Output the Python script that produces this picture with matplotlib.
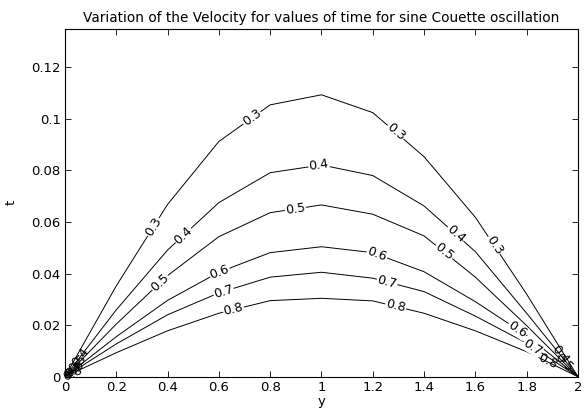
import numpy as np
import matplotlib
matplotlib.use("Agg")
import matplotlib.pyplot as plt

plt.rcParams['font.family'] = ['DejaVu Sans']

# grid positions along y
y_pts = [0.0, 0.2, 0.4, 0.6, 0.8, 1.0, 1.2, 1.4, 1.6, 1.8, 2.0]
levels = [0.3, 0.4, 0.5, 0.6, 0.7, 0.8]
t_03 = [0, 0.0352, 0.0668, 0.0912, 0.1054, 0.1093, 0.1024, 0.0853, 0.0618, 0.0320, 0]
t_04 = [0, 0.0259, 0.0491, 0.0675, 0.0791, 0.0821, 0.0780, 0.0662, 0.0485, 0.0246, 0]
t_05 = [0, 0.0204, 0.0392, 0.0543, 0.0636, 0.0666, 0.0630, 0.0546, 0.0386, 0.0198, 0]
t_06 = [0, 0.0155, 0.0296, 0.0405, 0.0481, 0.0504, 0.0481, 0.0407, 0.0291, 0.0160, 0]
t_07 = [0, 0.0127, 0.0240, 0.0325, 0.0386, 0.0405, 0.0382, 0.0330, 0.0235, 0.0130, 0]
t_08 = [0, 0.0093, 0.0178, 0.0246, 0.0295, 0.0304, 0.0294, 0.0246, 0.0178, 0.0097, 0]
curves = [t_03, t_04, t_05, t_06, t_07, t_08]

# where along y each contour label sits
label_y = [
    [0.345, 0.729, 1.289, 1.673],
    [0.06, 0.462, 0.99, 1.523, 1.93],
    [0.05, 0.371, 0.898, 1.478, 1.945],
    [0.04, 0.603, 1.217, 1.764],
    [0.035, 0.618, 1.256, 1.823],
    [0.03, 0.657, 1.289, 1.88],
]

x_ticks = [0, 0.2, 0.4, 0.6, 0.8, 1.0, 1.2, 1.4, 1.6, 1.8, 2.0]
x_tick_labels = ['0', '0.2', '0.4', '0.6', '0.8', '1', '1.2', '1.4', '1.6', '1.8', '2']
y_ticks = [0, 0.02, 0.04, 0.06, 0.08, 0.1, 0.12]
y_tick_labels = ['0', '0.02', '0.04', '0.06', '0.08', '0.1', '0.12']

fig = plt.figure(figsize=(5.85, 4.17), dpi=100)
ax = fig.add_axes([0.111, 0.0966, 0.877, 0.835])
ax.set_xlim(0, 2)
ax.set_ylim(0, 0.135)

for t in curves:
    ax.plot(y_pts, t, color='black', lw=0.7)

ax.set_xticks(x_ticks)
ax.set_xticklabels(x_tick_labels)
ax.set_yticks(y_ticks)
ax.set_yticklabels(y_tick_labels)
ax.tick_params(direction='in', length=4.5, width=0.6, labelsize=9.5, top=True, right=True, pad=3)
for s in ax.spines.values():
    s.set_linewidth(0.8)

ax.set_title('Variation of the Velocity for values of time for sine Couette oscillation', fontsize=9.8, pad=5)
ax.set_xlabel('y', fontsize=9.5, labelpad=1)
ax.set_ylabel('t', fontsize=9.5, labelpad=10)

fig.canvas.draw()
trans = ax.transData
for lev, t, xs in zip(levels, curves, label_y):
    for xl in xs:
        tl = np.interp(xl, y_pts, t)
        i = int(np.clip(np.searchsorted(y_pts, xl) - 1, 0, len(y_pts) - 2))
        p0 = trans.transform((y_pts[i], t[i]))
        p1 = trans.transform((y_pts[i + 1], t[i + 1]))
        ang = np.degrees(np.arctan2(p1[1] - p0[1], p1[0] - p0[0]))
        if ang > 90:
            ang -= 180
        if ang < -90:
            ang += 180
        end = xl < 0.15 or xl > 1.85
        bbox = None if end else dict(boxstyle='square,pad=0.05', fc='white', ec='none')
        ax.text(xl, tl, f'{lev:g}', fontsize=9, rotation=ang, rotation_mode='anchor',
                ha='center', va='center', bbox=bbox)

fig.savefig('out.png', dpi=100)
